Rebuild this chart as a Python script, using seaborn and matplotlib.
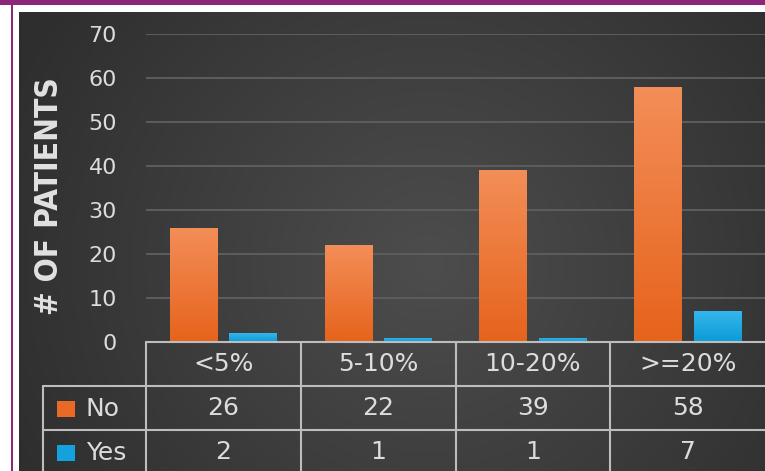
import numpy as np
import pandas as pd
import matplotlib
matplotlib.use("Agg")
import matplotlib.pyplot as plt
import seaborn as sns
from matplotlib.patches import Rectangle
from matplotlib.lines import Line2D
from matplotlib.transforms import blended_transform_factory

# ---- data ----
categories = ["<5%", "5-10%", "10-20%", ">=20%"]
no_values = [26, 22, 39, 58]
yes_values = [2, 1, 1, 7]
series_names = ["No", "Yes"]
y_ticks = [0, 10, 20, 30, 40, 50, 60, 70]

df = pd.DataFrame({
    "range": categories * 2,
    "patients": no_values + yes_values,
    "group": ["No"] * 4 + ["Yes"] * 4,
})

W, H = 765, 471
ORANGE = "#e96a25"
BLUE = "#14a2de"
TXT = "#dcdcdc"
LINE = "#bdbdbd"
PURPLE = "#8c2679"

sns.set_theme(style="dark")
plt.rcParams["font.family"] = ["DejaVu Sans"]

fig = plt.figure(figsize=(W / 100, H / 100), dpi=100, facecolor="white")

def fx(px):
    return px / W

def fy(py):
    return 1 - py / H

# purple frame
fig.add_artist(Rectangle((0, fy(5)), 1, 5 / H, transform=fig.transFigure,
                         facecolor=PURPLE, edgecolor="none"))
fig.add_artist(Rectangle((fx(11), 0), 2.2 / W, 1, transform=fig.transFigure,
                         facecolor=PURPLE, edgecolor="none"))

# dark gradient background
bg = fig.add_axes([fx(19), 0, 1 - fx(19), (H - 12) / H])
gx, gy = np.meshgrid(np.linspace(0, 1, 300), np.linspace(0, 1, 200))
d = np.sqrt(((gx - 0.55) / 0.6) ** 2 + ((gy - 0.45) / 0.95) ** 2)
g = np.clip(77 - 30 * d, 46, 77) / 255.0
bg.imshow(np.dstack([g, g, g]), aspect="auto", extent=[0, 1, 0, 1], origin="lower")
bg.set_axis_off()

# main axes
ax = fig.add_axes([fx(146), fy(342), 1 - fx(146), (342 - 34) / H])
ax.set_facecolor("none")
sns.barplot(data=df, x="range", y="patients", hue="group", order=categories,
            hue_order=series_names, palette=[ORANGE, BLUE], width=0.77, gap=0.2,
            saturation=1, legend=False, edgecolor="none", ax=ax)
ax.set_xlim(-0.5, 3.5)
ax.set_ylim(0, 70)
ax.set_yticks(y_ticks)
ax.set_yticklabels([str(t) for t in y_ticks], fontsize=16, color=TXT)
ax.tick_params(axis="y", length=0, pad=21)
ax.set_xticks([])
ax.set_xlabel("")
ax.set_ylabel("")
ax.grid(axis="y", color="#5d5d5d", linewidth=1.4)
ax.set_axisbelow(True)
for s in ax.spines.values():
    s.set_visible(False)

# gradient on bars
tops = {ORANGE: ("#f38e58", "#e6631c"), BLUE: ("#35b6ec", "#0a9bd8")}
for p in list(ax.patches):
    fc = matplotlib.colors.to_hex(p.get_facecolor())
    key = ORANGE if abs(int(fc[1:3], 16) - 0xe9) < 10 else BLUE
    c_top, c_bot = [np.array(matplotlib.colors.to_rgb(c)) for c in tops[key]]
    t = np.linspace(0, 1, 100)[:, None]
    img = c_bot * (1 - t) + c_top * t
    img = img[:, None, :].repeat(2, axis=1)
    x0, y0 = p.get_x(), p.get_y()
    w, h = p.get_width(), p.get_height()
    im = ax.imshow(img, extent=[x0, x0 + w, y0, y0 + h], origin="lower",
                   aspect="auto", zorder=p.get_zorder() + 0.1)
    im.set_clip_path(p)
ax.set_xlim(-0.5, 3.5)
ax.set_ylim(0, 70)

# y-axis title
fig.text(fx(50), fy(196), "# OF PATIENTS", rotation=90, ha="center", va="center",
         fontsize=22.8, fontweight="bold", fontstretch="condensed", color="#e2e2e2")

# ---- data table ----
tr = blended_transform_factory(ax.transData, ax.transAxes)
row_h = 44 / 308
lw = 1.5
ax.add_line(Line2D([-0.5, 3.5], [0, 0], transform=tr, color=LINE, lw=lw, clip_on=False))
for i in range(len(categories)):
    ax.add_line(Line2D([i - 0.5, i - 0.5], [0, -0.45], transform=tr, color=LINE,
                       lw=lw, clip_on=False))
for r in (1, 2):
    fig.add_artist(Line2D([fx(43), 1], [fy(342 + 44 * r), fy(342 + 44 * r)],
                          transform=fig.transFigure, color=LINE, lw=lw))
fig.add_artist(Line2D([fx(43), fx(43)], [fy(386), 0], transform=fig.transFigure,
                      color=LINE, lw=lw))

fs = 18
for i, cat in enumerate(categories):
    ax.text(i, -0.5 * row_h, cat, transform=tr, ha="center", va="center",
            fontsize=fs, color=TXT)
    ax.text(i, -1.5 * row_h, str(no_values[i]), transform=tr, ha="center",
            va="center", fontsize=fs, color=TXT)
    ax.text(i, -2.5 * row_h, str(yes_values[i]), transform=tr, ha="center",
            va="center", fontsize=fs, color=TXT)

# legend keys in the table
for k, (name, col) in enumerate(zip(series_names, [ORANGE, BLUE])):
    cy = 409 + 44 * k
    fig.add_artist(Rectangle((fx(57), fy(cy + 8)), 18 / W, 16 / H,
                             transform=fig.transFigure, facecolor=col, edgecolor="none"))
    fig.text(fx(86), fy(cy), name, ha="left", va="center", fontsize=fs, color=TXT)

fig.savefig("out.png", dpi=100, facecolor="white")
